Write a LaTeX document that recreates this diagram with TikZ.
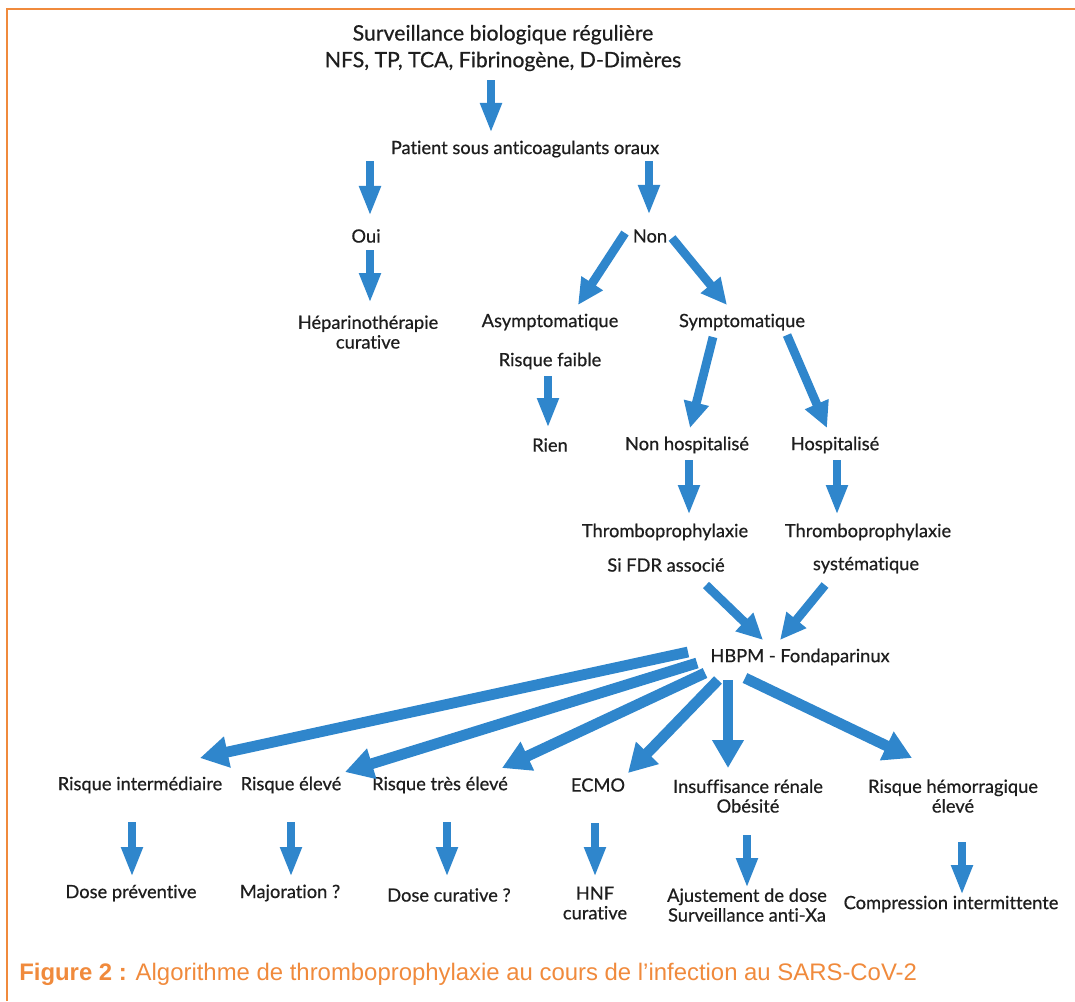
\documentclass[tikz,border=0pt]{standalone}
\usepackage{fontspec}
\setmainfont{Lato}[Ligatures=NoCommon, FakeBold=0.6]
\newfontfamily\capfont{Liberation Sans}
\usetikzlibrary{positioning}
\usetikzlibrary{arrows.meta}
\definecolor{arrblue}{RGB}{47,134,204}
\definecolor{figorange}{RGB}{240,138,60}
\definecolor{txtgray}{RGB}{30,30,30}

\begin{document}
\begin{tikzpicture}[x=0.025cm,y=-0.025cm,
  txt/.style={font=\fontsize{13}{14}\selectfont, text=txtgray, inner sep=1pt, align=center},
  arr/.style={draw=arrblue, line width=0.2cm, -{Triangle[length=0.75cm,width=0.5cm]}},
  slant/.style={draw=arrblue, line width=0.22cm, -{Triangle[length=0.65cm,width=0.6cm]}},
  fan/.style={draw=arrblue, line width=0.27cm, -{Triangle[length=0.7cm,width=0.75cm]}}]

\useasboundingbox (0,0) rectangle (1075,1001);

% frame
\draw[figorange, line width=0.05cm] (7,1001) -- (7,9) -- (1075,9);

% nodes
\node[txt, font=\fontsize{15.1}{19}\selectfont] (title) at (503,48) {Surveillance biologique régulière\\NFS, TP, TCA, Fibrinogène, D-Dimères};
\node[txt] (pat) at (525,149) {Patient sous anticoagulants oraux};

\node[txt] (oui) at (366,236) {Oui};
\node[txt] (non) at (650,236) {Non};
\node[txt] (hep) at (368,332) {Héparinothérapie\\curative};

\node[txt] (asym) at (550,322) {Asymptomatique};
\node[txt] (sympt) at (742,322) {Symptomatique};
\node[txt] (faible) at (550,361) {Risque faible};
\node[txt] (rien) at (550,445) {Rien};

\node[txt] (nonhosp) at (687,445) {Non hospitalisé};
\node[txt] (hosp) at (835,445) {Hospitalisé};
\node[txt] (thA) at (665,532) {Thromboprophylaxie};
\node[txt] (fdr) at (666,565) {Si FDR associé};
\node[txt] (thB) at (868,532) {Thromboprophylaxie};
\node[txt] (syst) at (866,565) {systématique};

\node[txt] (hbpm) at (800,657) {HBPM - Fondaparinux};

\node[txt] (ri) at (140,785) {Risque intermédiaire};
\node[txt] (re) at (291,785) {Risque élevé};
\node[txt] (rte) at (440,785) {Risque très élevé};
\node[txt] (ecmo) at (598,785) {ECMO};
\node[txt, text depth=0pt] (ins) at (748,796) {Insuffisance rénale\\Obésité};
\node[txt] (hem) at (953,796) {Risque hémorragique\\élevé};

\node[txt] (dp) at (131,893) {Dose préventive};
\node[txt] (maj) at (290,893) {Majoration ?};
\node[txt] (dc) at (449,895) {Dose curative ?};
\node[txt] (hnf) at (595,903) {HNF\\curative};
\node[txt] (adj) at (747,905) {Ajustement de dose\\Surveillance anti-Xa};
\node[txt] (comp) at (951,904) {Compression intermittente};

% caption
\node[anchor=base west, inner sep=0pt, text=figorange, font=\capfont\fontsize{17}{20}\selectfont] (cap) at (19,980)
  {\textbf{Figure 2 :} Algorithme de thromboprophylaxie au cours de l’infection au SARS-CoV-2};

% arrows
\draw[arr] ([shift={(-12,32)}]title.center) -- ([shift={(-34,-16)}]pat.center);
\draw[arr] ([shift={(-155,12)}]pat.center) -- ([shift={(4,-20)}]oui.center);
\draw[arr] ([shift={(124,12)}]pat.center) -- ([shift={(-1,-21)}]non.center);
\draw[arr] ([shift={(4,14)}]oui.center) -- ([shift={(2,-29)}]hep.center);

\draw[slant] ([shift={(-25,-3)}]non.center) -- ([shift={(28,-17)}]asym.center);
\draw[slant] ([shift={(22,2)}]non.center) -- ([shift={(-15,-17)}]sympt.center);
\draw[arr] ([shift={(-2,15)}]faible.center) -- ([shift={(-2,-17)}]rien.center);

\draw[slant] ([shift={(-29,15)}]sympt.center) -- ([shift={(3,-17)}]nonhosp.center);
\draw[slant] ([shift={(45,13)}]sympt.center) -- ([shift={(-8,-17)}]hosp.center);
\draw[arr] ([shift={(2,15)}]nonhosp.center) -- ([shift={(24,-17)}]thA.center);
\draw[arr] ([shift={(2,15)}]hosp.center) -- ([shift={(-31,-17)}]thB.center);

\draw[slant] ([shift={(40,20)}]fdr.center) -- ([shift={(-37,-17)}]hbpm.center);
\draw[slant] ([shift={(-41,20)}]syst.center) -- ([shift={(-20,-17)}]hbpm.center);

\draw[fan] ([shift={(-112,-5)}]hbpm.center) -- ([shift={(60,-27)}]ri.center);
\draw[fan] ([shift={(-103,6)}]hbpm.center) -- ([shift={(54,-13)}]re.center);
\draw[fan] ([shift={(-95,16)}]hbpm.center) -- ([shift={(62,-17)}]rte.center);
\draw[fan] ([shift={(-82,23)}]hbpm.center) -- ([shift={(30,-12)}]ecmo.center);
\draw[fan] ([shift={(-72,23)}]hbpm.center) -- ([shift={(-20,-28)}]ins.center);
\draw[fan] ([shift={(-55,21)}]hbpm.center) -- ([shift={(-41,-38)}]hem.center);

\draw[arr] ([shift={(-8,37)}]ri.center) -- ([shift={(1,-16)}]dp.center);
\draw[arr] ([shift={(0,37)}]re.center) -- ([shift={(1,-16)}]maj.center);
\draw[arr] ([shift={(7,37)}]rte.center) -- ([shift={(-2,-18)}]dc.center);
\draw[arr] ([shift={(-3,38)}]ecmo.center) -- ([shift={(0,-26)}]hnf.center);
\draw[arr] ([shift={(-1,39)}]ins.center) -- ([shift={(0,-17)}]adj.center);
\draw[arr] ([shift={(9,46)}]hem.center) -- ([shift={(11,-9)}]comp.center);

\end{tikzpicture}
\end{document}
